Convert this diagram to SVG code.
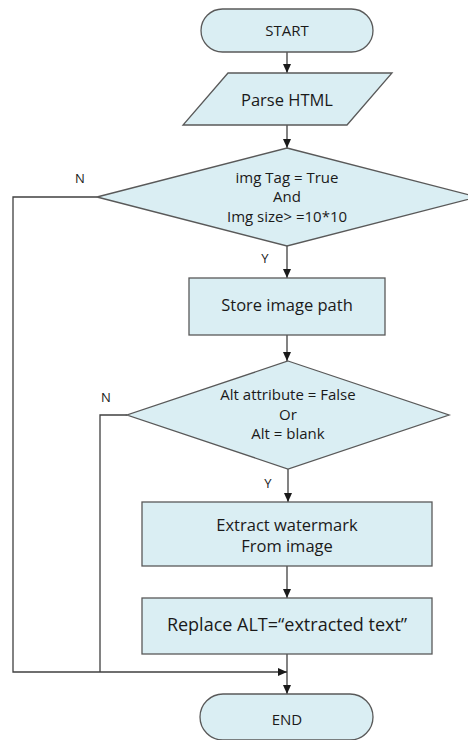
<svg xmlns="http://www.w3.org/2000/svg" width="468" height="740" viewBox="0 0 468 740">
<style>
.n{fill:#daeef3;stroke:#595959;stroke-width:1.3}
.c{fill:none;stroke:#404040;stroke-width:1.3}
text{font-family:"Open Sans","Noto Sans",sans-serif;fill:#1a1a1a;text-anchor:middle}
.s{font-size:13px}
.l{font-size:15px}
.m{font-size:16.5px}
.b{font-size:18px}
</style>
<defs>
<marker id="a" markerWidth="10" markerHeight="10" refX="9" refY="5" orient="auto" markerUnits="userSpaceOnUse">
<path d="M0,1 L9,5 L0,9 Z" fill="#1a1a1a"/>
</marker>
</defs>
<rect width="468" height="740" fill="#fff"/>
<g id="connectors">
<line class="c" x1="287" y1="52" x2="287" y2="73" marker-end="url(#a)"/>
<line class="c" x1="287" y1="125" x2="287" y2="148" marker-end="url(#a)"/>
<line class="c" x1="287" y1="246" x2="287" y2="278" marker-end="url(#a)"/>
<line class="c" x1="287" y1="335" x2="287" y2="361" marker-end="url(#a)"/>
<line class="c" x1="288" y1="469" x2="288" y2="502" marker-end="url(#a)"/>
<line class="c" x1="287" y1="566" x2="287" y2="598" marker-end="url(#a)"/>
<line class="c" x1="287" y1="654" x2="287" y2="694" marker-end="url(#a)"/>
<polyline class="c" points="97,197 13,197 13,672 287,672" marker-end="url(#a)"/>
<polyline class="c" points="127,415 100,415 100,672"/>
<text class="s" x="80" y="183">N</text>
<text class="s" x="265" y="263">Y</text>
<text class="s" x="106" y="402">N</text>
<text class="s" x="268" y="488">Y</text>
</g>
<g id="start">
<rect class="n" x="201" y="9" width="172" height="43" rx="21.5"/>
<text class="l" x="287" y="36">START</text>
</g>
<g id="parse">
<polygon class="n" points="228,73 392,73 347,125 183,125"/>
<text class="m" x="287" y="106">Parse HTML</text>
</g>
<g id="decision1">
<polygon class="n" points="287,148 477,197 287,246 97,197"/>
<text class="l" x="287" y="183">img Tag  = True</text>
<text class="l" x="287" y="202">And</text>
<text class="l" x="287" y="222">Img size&gt; =10*10</text>
</g>
<g id="store">
<rect class="n" x="189" y="278" width="196" height="57"/>
<text class="m" x="287" y="311">Store image path</text>
</g>
<g id="decision2">
<polygon class="n" points="288,361 449,415 288,469 127,415"/>
<text class="l" x="288" y="400">Alt attribute =  False</text>
<text class="l" x="288" y="420">Or</text>
<text class="l" x="288" y="439">Alt =  blank</text>
</g>
<g id="extract">
<rect class="n" x="142" y="502" width="290" height="64"/>
<text class="m" x="287" y="531">Extract  watermark</text>
<text class="m" x="287" y="552">From  image</text>
</g>
<g id="replace">
<rect class="n" x="142" y="598" width="290" height="56"/>
<text class="b" x="287" y="631">Replace ALT=“extracted text”</text>
</g>
<g id="end">
<rect class="n" x="200" y="694" width="173" height="46" rx="23"/>
<text class="l" x="287" y="725">END</text>
</g>
</svg>
